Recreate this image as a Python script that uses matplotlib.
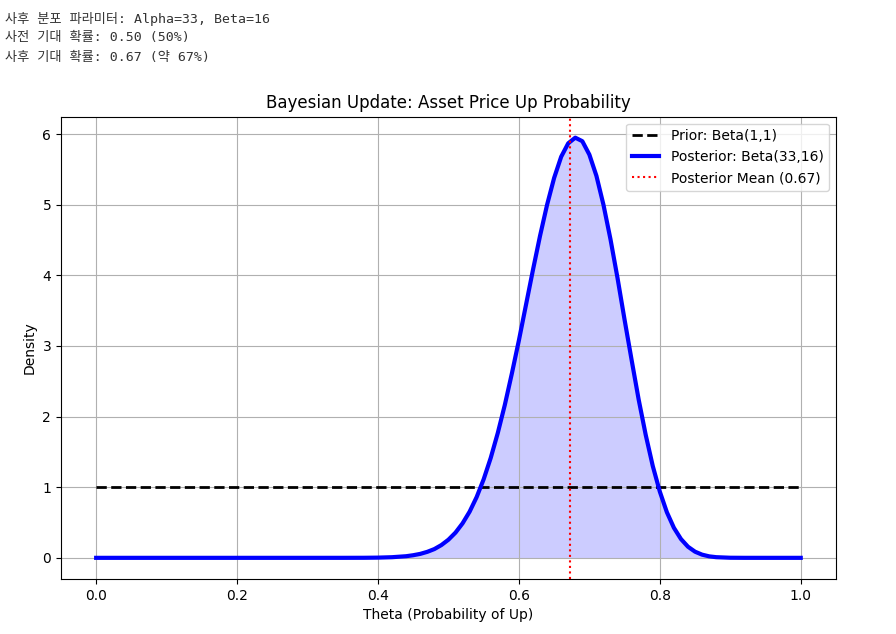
import matplotlib
matplotlib.use("Agg")
import matplotlib.pyplot as plt

# Beta(33,16) posterior density
theta = [0.0, 0.10, 0.20, 0.30, 0.35, 0.38, 0.40, 0.42, 0.44, 0.45, 0.46, 0.47,
         0.48, 0.49, 0.50, 0.51, 0.52, 0.53, 0.54, 0.55, 0.56, 0.57, 0.58, 0.59,
         0.60, 0.61, 0.62, 0.63, 0.64, 0.65, 0.66, 0.67, 0.68, 0.69, 0.70, 0.71,
         0.72, 0.73, 0.74, 0.75, 0.76, 0.77, 0.78, 0.79, 0.80, 0.81, 0.82, 0.83,
         0.84, 0.85, 0.86, 0.87, 0.88, 0.90, 0.92, 0.95, 1.0]
posterior = [0.0, 0.0, 0.0, 0.0, 0.0001, 0.0008, 0.003, 0.009, 0.023, 0.037, 0.056, 0.085,
             0.124, 0.181, 0.257, 0.357, 0.488, 0.653, 0.860, 1.113, 1.415, 1.767, 2.165, 2.61,
             3.08, 3.58, 4.08, 4.56, 5.00, 5.38, 5.68, 5.87, 5.95, 5.90, 5.71, 5.41,
             5.00, 4.51, 3.96, 3.37, 2.80, 2.24, 1.74, 1.30, 0.938, 0.646, 0.425, 0.266,
             0.157, 0.087, 0.045, 0.021, 0.0093, 0.0013, 0.0001, 0.0, 0.0]
prior_x = [0.0, 1.0]
prior_y = [1.0, 1.0]
post_mean = 0.673

info_lines = [
    "사후 분포 파라미터: Alpha=33, Beta=16",
    "사전 기대 확률: 0.50 (50%)",
    "사후 기대 확률: 0.67 (약 67%)",
]

fig = plt.figure(figsize=(8.96, 6.34), dpi=100)
ax = fig.add_axes([0.068, 0.087, 0.865, 0.729])

ax.plot(prior_x, prior_y, "k--", linewidth=2, label="Prior: Beta(1,1)")
ax.plot(theta, posterior, color="blue", linewidth=3, label="Posterior: Beta(33,16)")
ax.fill_between(theta, posterior, color="blue", alpha=0.2, linewidth=0)
ax.axvline(post_mean, color="red", linestyle=":", linewidth=1.5,
           label=f"Posterior Mean ({post_mean:.2f})")

ax.set_title("Bayesian Update: Asset Price Up Probability")
ax.set_xlabel("Theta (Probability of Up)")
ax.set_ylabel("Density")
ax.grid(True)
ax.legend(loc="upper right")

for i, line in enumerate(info_lines):
    fig.text(5 / 896, 1 - (19 + 19 * i) / 634, line, fontsize=9.5, va="center",
             family=["DejaVu Sans Mono", "Noto Sans CJK KR"], color="#333333")

fig.savefig("out.png", dpi=100)
